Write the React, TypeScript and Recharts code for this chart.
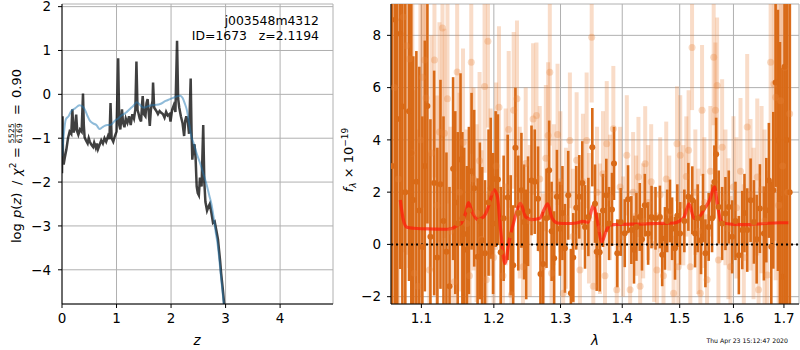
import React from 'react';
import {
  ComposedChart,
  Line,
  Scatter,
  ErrorBar,
  XAxis,
  YAxis,
  CartesianGrid,
  ReferenceLine,
} from 'recharts';

const FONT = '"DejaVu Sans", sans-serif';

// left panel: log p(z) (dark) and smooth curve (blue)
const pzZ = [
  0.0, 0.01, 0.018, 0.03, 0.05, 0.08, 0.11, 0.14, 0.17, 0.19, 0.21, 0.235, 0.26, 0.28, 0.3, 0.33, 0.36, 0.385,
  0.4, 0.415, 0.44, 0.47, 0.49, 0.51, 0.54, 0.57, 0.59, 0.62, 0.64, 0.66, 0.69, 0.72, 0.75, 0.78, 0.81, 0.845,
  0.87, 0.89, 0.91, 0.94, 0.97, 1.0, 1.03, 1.05, 1.07, 1.1, 1.12, 1.145, 1.17, 1.2, 1.23, 1.26, 1.29, 1.32,
  1.345, 1.365, 1.385, 1.4, 1.425, 1.45, 1.47, 1.48, 1.5, 1.53, 1.55, 1.57, 1.59, 1.61, 1.63, 1.66, 1.67, 1.69,
  1.71, 1.74, 1.76, 1.79, 1.82, 1.85, 1.88, 1.91, 1.94, 1.97, 1.99, 2.02, 2.05, 2.08, 2.11, 2.13, 2.15, 2.18,
  2.21, 2.24, 2.26, 2.28, 2.31, 2.33, 2.36, 2.375, 2.39, 2.41, 2.43, 2.45, 2.47, 2.49, 2.51, 2.53, 2.56, 2.59,
  2.61, 2.63, 2.66, 2.69, 2.71, 2.74, 2.77, 2.8, 2.83, 2.86, 2.88, 2.9, 2.92, 2.95, 2.975,
];
const pzLogP = [
  -1.8, -0.5, -1.45, -1.6, -1.45, -1.26, -1.0, -0.85, -0.9, -0.34, -0.87, -0.8, -0.46, -0.85, -0.92, -0.8, -0.85, 0.02,
  -0.7, -0.98, -1.05, -1.12, -1.0, -1.08, -1.15, -1.2, -1.1, -1.22, -1.12, -1.25, -1.15, -1.05, -1.12, -1.0, -1.08, -0.95,
  -1.02, -0.2, -1.0, -1.08, -0.95, -0.85, 0.82, -0.7, -0.8, -0.34, -0.65, -0.75, -0.55, -0.65, -0.5, -0.7, -0.45, -0.55,
  -0.35, 0.75, -0.35, -0.42, -0.55, -0.62, -0.2, -0.04, -0.45, -0.5, -0.2, -0.11, -0.4, -0.72, -0.35, -0.15, 0.27, -0.3,
  -0.34, -0.4, -0.45, -0.38, -0.42, -0.45, -0.53, -0.4, -0.48, -0.45, -0.62, -0.35, -0.25, -0.4, 1.22, -0.1, -0.3, -0.5,
  -0.65, -0.95, -0.6, -0.5, -0.65, -0.9, 0.36, -0.8, -1.49, -1.2, -1.14, -1.45, -2.1, -2.25, -2.3, -1.9, -2.1, -0.7,
  -2.0, -2.45, -2.65, -2.55, -2.5, -2.7, -2.93, -2.9, -3.1, -3.3, -3.55, -3.8, -4.1, -4.45, -4.8,
];
const smoothZ = [
  0.0, 0.03, 0.07, 0.12, 0.17, 0.24, 0.32, 0.38, 0.42, 0.47, 0.51, 0.57, 0.63, 0.69, 0.74, 0.78, 0.83, 0.88,
  0.92, 0.97, 1.03, 1.09, 1.17, 1.24, 1.31, 1.37, 1.43, 1.49, 1.56, 1.64, 1.72, 1.8, 1.9, 1.98, 2.06, 2.12,
  2.17, 2.21, 2.25, 2.29, 2.33, 2.37, 2.41, 2.47, 2.53, 2.59, 2.65, 2.7, 2.74, 2.78, 2.82, 2.86, 2.9, 2.94, 2.97,
];
const smoothLogP = [
  -1.41, -0.95, -0.57, -0.5, -0.38, -0.32, -0.25, -0.28, -0.35, -0.5, -0.6, -0.66, -0.7, -0.79, -0.75, -0.72, -0.7, -0.7,
  -0.67, -0.6, -0.55, -0.48, -0.42, -0.34, -0.26, -0.18, -0.24, -0.3, -0.28, -0.25, -0.24, -0.22, -0.15, -0.11, -0.07, -0.04,
  -0.03, -0.08, -0.2, -0.36, -0.65, -0.95, -1.1, -1.35, -1.56, -1.8, -2.05, -2.3, -2.5, -2.8, -3.15, -3.47, -3.95, -4.45, -4.8,
];

// right panel: extracted spectra, two grisms
const darkLam = [
  1.0622, 1.0661, 1.0686, 1.0725, 1.0752, 1.079, 1.0838, 1.0868, 1.0894, 1.0934, 1.0973, 1.1013, 1.1046, 1.108,
  1.112, 1.117, 1.1213, 1.1255, 1.1296, 1.1336, 1.1378, 1.1427, 1.1457, 1.149, 1.1529, 1.1555, 1.158, 1.1617,
  1.1646, 1.1683, 1.172, 1.1768, 1.18, 1.1834, 1.1874, 1.1924, 1.1955, 1.1989, 1.2026, 1.2059, 1.2099, 1.2142,
  1.2201, 1.2245, 1.2282, 1.2315, 1.2357, 1.2404, 1.2443, 1.2476, 1.2503, 1.2555, 1.2604, 1.2654, 1.2691, 1.2731,
  1.2783, 1.2824, 1.2862, 1.2901, 1.2944, 1.299, 1.303, 1.3069, 1.3121, 1.3163, 1.32, 1.3248, 1.3296, 1.3344,
  1.3388, 1.3442, 1.3506, 1.355, 1.3577, 1.3626, 1.368, 1.3735, 1.378, 1.3829, 1.3862, 1.3917, 1.3974, 1.4042,
  1.4098, 1.4154, 1.4199, 1.424, 1.4298, 1.4336, 1.4385, 1.4442, 1.4501, 1.4571, 1.4648, 1.4688, 1.4737, 1.4776,
  1.4826, 1.4864, 1.4916, 1.4957, 1.5006, 1.5084, 1.5157, 1.5229, 1.5279, 1.5327, 1.5389, 1.5425, 1.547, 1.5531,
  1.5594, 1.5638, 1.5671, 1.5719, 1.5784, 1.5847, 1.591, 1.5975, 1.6038, 1.6104, 1.617, 1.6213, 1.6267, 1.6333,
  1.6398, 1.6452, 1.6516, 1.6596, 1.6644, 1.6695, 1.6744, 1.6784, 1.6831, 1.6878, 1.6919, 1.6968, 1.7014, 1.7058, 1.7117,
];
const darkFlux = [
  3.0, 8.6, 4.8, 8.06, 5.28, 2.0, 5.1, 3.5, 1.7, 2.4, 1.3, -0.1, 3.0, 5.3,
  0.29, 2.35, -0.5, 2.3, 0.9, -0.28, -1.6, 2.9, 1.6, 0.8, 3.25, 1.0, 0.4, -0.2,
  1.3, 2.8, 2.15, -0.47, 0.9, 0.16, -0.34, 1.6, 2.15, 0.8, 2.5, 2.48, -0.3, 1.0,
  1.8, 0.35, -0.8, 3.7, 1.2, 2.07, 0.86, 0.0, 1.27, 2.45, 2.4, 1.75, -1.13, -0.75,
  1.0, 2.84, 0.5, -0.53, 1.82, 0.6, 1.2, -0.15, 1.88, -1.87, -0.5, 1.4, 1.82, 2.35,
  0.67, 1.05, 3.72, 1.56, -0.28, -0.3, 1.3, 1.88, 0.8, 1.34, 3.1, -0.34, 0.86, 0.43,
  1.73, 0.55, -0.2, 0.67, 1.05, 0.2, 1.5, 0.42, 1.05, 1.0, 1.05, -0.4, 0.23, 0.9,
  1.28, 0.6, -0.15, 1.1, 0.42, 0.9, 1.82, 1.69, 0.42, 1.0, 0.16, 1.4, -0.34, 0.67,
  1.0, 2.39, 3.45, 1.43, 0.8, 1.18, 1.43, 0.29, 0.9, -0.41, 0.55, 1.2, 0.55, 1.69,
  0.86, 0.2, 1.37, 0.42, 1.31, 2.45, -0.09, 2.07, 6.2, 3.98, 1.75, -1.24, 6.8, 4.0, 2.0,
];
const darkErr = [
  12, 11, 10, 9, 9, 8, 6.5, 6, 5.5, 5, 5.5, 5, 4.8, 4.5,
  4.5, 4.3, 4.2, 4, 4, 3.8, 3.8, 3.5, 3.5, 3.5, 3.3, 3.3, 3.3, 3.2,
  3.2, 3, 3, 3, 3, 2.8, 2.8, 2.8, 2.7, 2.7, 2.6, 2.5, 2.5, 2.4,
  2.4, 2.3, 2.3, 2.3, 2.2, 2.2, 2.2, 2.1, 2.1, 2.1, 2, 2, 2, 2,
  1.9, 1.9, 1.9, 1.8, 1.8, 1.8, 1.8, 1.7, 1.7, 1.7, 1.7, 1.6, 1.6, 1.6,
  1.6, 1.5, 1.5, 1.5, 1.5, 1.5, 1.4, 1.4, 1.4, 1.4, 1.4, 1.3, 1.3, 1.3,
  1.3, 1.3, 1.3, 1.3, 1.3, 1.2, 1.2, 1.2, 1.2, 1.2, 1.2, 1.2, 1.2, 1.2,
  1.2, 1.2, 1.2, 1.2, 1.2, 1.2, 1.3, 1.3, 1.3, 1.3, 1.3, 1.3, 1.3, 1.3,
  1.3, 1.4, 1.4, 1.4, 1.4, 1.4, 1.4, 1.4, 1.5, 1.5, 1.5, 1.5, 1.6, 1.6,
  1.6, 1.7, 1.7, 1.8, 2.0, 2.2, 2.5, 3, 4, 5, 6, 8, 10, 12, 12,
];

const lightLam = [
  1.0648, 1.0699, 1.0764, 1.0803, 1.0842, 1.0881, 1.0908, 1.0951, 1.0987, 1.1013, 1.104, 1.1062, 1.1107, 1.1133,
  1.1174, 1.1207, 1.1241, 1.1282, 1.1309, 1.135, 1.1391, 1.1446, 1.1483, 1.1515, 1.1564, 1.1613, 1.1655, 1.1679,
  1.1711, 1.1754, 1.1796, 1.1825, 1.1867, 1.1892, 1.1915, 1.1953, 1.1997, 1.2033, 1.2074, 1.2132, 1.2172, 1.2216,
  1.2255, 1.2289, 1.2338, 1.2379, 1.2428, 1.2468, 1.2529, 1.2579, 1.263, 1.268, 1.2731, 1.2773, 1.2808, 1.2834,
  1.2861, 1.2896, 1.2954, 1.2998, 1.3042, 1.3084, 1.3147, 1.3195, 1.3254, 1.3307, 1.3355, 1.3414, 1.3452, 1.3496,
  1.3522, 1.3582, 1.3631, 1.368, 1.3713, 1.3742, 1.3796, 1.3851, 1.3908, 1.3964, 1.4014, 1.4077, 1.4133, 1.4184,
  1.4235, 1.4275, 1.4304, 1.4356, 1.4391, 1.4443, 1.4495, 1.4547, 1.4595, 1.4653, 1.4711, 1.4759, 1.4813, 1.489,
  1.4951, 1.4974, 1.501, 1.5065, 1.5119, 1.5161, 1.5192, 1.5224, 1.5284, 1.5339, 1.5376, 1.5408, 1.5451, 1.5501,
  1.5563, 1.5625, 1.5657, 1.5689, 1.5714, 1.5784, 1.5847, 1.5904, 1.5942, 1.6, 1.6058, 1.6136, 1.62, 1.6266,
  1.6331, 1.6391, 1.6464, 1.649, 1.6549, 1.6609, 1.6663, 1.673, 1.6796, 1.6831, 1.6892, 1.6933, 1.6973, 1.7014,
  1.7076, 1.7117,
];
const lightFlux = [
  6.0, 2.5, 8.7, 7.6, 7.1, 3.5, -1.1, -1.6, 4.0, 6.4, 7.06, 5.6, -0.98, 3.5,
  7.06, 1.5, 4.3, 8.28, 4.25, 5.57, 0.5, -1.43, 6.6, 2.0, 3.9, 0.8, -1.2, 6.97,
  2.5, 1.2, 3.2, 0.2, 6.04, -1.35, 7.77, 2.0, -0.5, 3.0, 5.25, -1.2, 2.2, 4.4,
  -1.93, 5.13, 5.57, 1.6, -0.85, 3.1, 0.9, 4.8, 4.93, 2.5, -0.85, 3.3, 4.17, 6.59,
  -1.1, 1.9, 4.21, 2.4, -1.87, 1.0, 3.98, 0.3, 3.22, -0.98, 2.4, 3.98, 1.0, 7.93,
  -1.6, 2.0, 0.6, 2.7, -1.2, 3.85, 1.8, 4.43, -1.73, 2.2, 0.3, 3.41, -1.73, 2.0,
  1.1, 2.58, -1.6, 0.9, 3.09, 1.6, 2.4, 0.0, -0.98, 1.9, -1.2, 2.5, 1.2, -1.87,
  3.85, -0.85, 3.41, 1.5, 2.6, 3.6, -0.85, 7.54, 2.0, 0.5, -1.87, 5.13, 1.6, -1.35,
  2.8, 7.16, 5.13, 6.08, -0.6, 3.72, 1.8, 0.6, -0.85, 2.2, 1.4, 2.8, -0.5, 4.49,
  1.9, 0.8, 2.58, -1.73, 2.1, 0.9, -1.17, 6.97, 6.14, 5.63, 1.5, 5.5, 3.0, 6.78,
  2.0, 5.0,
];
const lightErr = [
  10, 10, 9, 8, 8, 7, 7, 6, 6, 5, 5, 5, 4.5, 4.5,
  4.5, 4.2, 4.2, 4.2, 4, 4, 4, 4, 3.8, 3.8, 3.6, 3.6, 3.5, 3.5,
  3.5, 3.4, 3.4, 3.4, 3.3, 3.3, 3.3, 3.2, 3.2, 3.2, 3.1, 3.1, 3, 3,
  3, 3, 3, 2.9, 2.9, 2.9, 2.9, 2.9, 2.8, 2.8, 2.8, 2.8, 2.8, 2.8,
  2.8, 2.7, 2.7, 2.7, 2.7, 2.7, 2.6, 2.6, 2.6, 2.6, 2.6, 2.6, 2.5, 2.5,
  2.5, 2.5, 2.5, 2.4, 2.4, 2.4, 2.4, 2.4, 2.4, 2.3, 2.3, 2.3, 2.3, 2.3,
  2.3, 2.3, 2.3, 2.2, 2.2, 2.2, 2.2, 2.2, 2.2, 2.2, 2.2, 2.2, 2.2, 2.2,
  2.2, 2.2, 2.3, 2.3, 2.3, 2.3, 2.3, 2.4, 2.4, 2.4, 2.4, 2.5, 2.5, 2.5,
  2.5, 2.6, 2.6, 2.6, 2.6, 2.6, 2.6, 2.7, 2.7, 2.7, 2.7, 2.8, 2.8, 2.8,
  2.9, 2.9, 3, 3, 3.2, 3.5, 4, 5, 6, 7, 8, 9, 10, 11,
  12, 12,
];

// best-fit template
const modelLam = [
  1.0725, 1.076, 1.081, 1.09, 1.1, 1.115, 1.13, 1.14, 1.148, 1.155, 1.16, 1.164, 1.169, 1.177, 1.185, 1.191,
  1.196, 1.2, 1.205, 1.21, 1.216, 1.222, 1.23, 1.239, 1.247, 1.256, 1.268, 1.275, 1.28, 1.287, 1.295, 1.31,
  1.325, 1.335, 1.344, 1.352, 1.358, 1.366, 1.373, 1.38, 1.4, 1.43, 1.46, 1.49, 1.5, 1.508, 1.517, 1.526,
  1.535, 1.545, 1.555, 1.564, 1.569, 1.576, 1.585, 1.6, 1.63, 1.66, 1.69, 1.709,
];
const modelFlux = [
  1.7, 1.0, 0.66, 0.62, 0.6, 0.59, 0.58, 0.6, 0.72, 0.85, 1.2, 1.6, 1.25, 0.95, 1.05, 1.35,
  1.8, 2.1, 1.85, 0.5, -0.73, 0.1, 0.95, 1.57, 1.05, 0.95, 1.0, 1.35, 1.55, 1.0, 0.82, 0.8,
  0.82, 0.88, 0.85, 1.5, 1.0, 0.1, 0.5, 0.75, 0.77, 0.78, 0.8, 0.82, 0.9, 1.05, 1.55, 1.0,
  1.05, 1.35, 1.7, 2.2, 1.6, 0.9, 0.8, 0.77, 0.76, 0.8, 0.83, 0.83,
];

const zTicks = [0, 1, 2, 3, 4];
const logpTicks = [-4, -3, -2, -1, 0, 1, 2];
const lamTicks = [1.1, 1.2, 1.3, 1.4, 1.5, 1.6, 1.7];
const fluxTicks = [-2, 0, 2, 4, 6, 8];

const FLUX_MIN = -2.28;
const FLUX_MAX = 9.2;

// error bars are cut at the frame, like matplotlib clipping does
const withClippedErr = (lam: number[], flux: number[], err: number[]) =>
  lam.map((x, i) => ({
    x,
    y: flux[i],
    e: [Math.min(err[i], flux[i] - FLUX_MIN), Math.min(err[i], FLUX_MAX - flux[i])],
  }));

const pz = pzZ.map((x, i) => ({ x, y: pzLogP[i] }));
const smooth = smoothZ.map((x, i) => ({ x, y: smoothLogP[i] }));
const dark = withClippedErr(darkLam, darkFlux, darkErr);
const light = withClippedErr(lightLam, lightFlux, lightErr);
const model = modelLam.map((x, i) => ({ x, y: modelFlux[i] }));

const DARK = '#d96a17';
const LIGHT = '#e8833a';
const GRID = '#b0b0b0';
const tick = { fontSize: 13.5, fill: '#000', fontFamily: FONT };
const minus = (v: number) => (v < 0 ? `\u2212${Math.abs(v)}` : `${v}`);

export default function App() {
  return (
    <div style={{ position: 'absolute', left: 0, top: 0, width: 800, height: 350, background: '#fff' }}>
      {/* p(z) panel */}
      <div style={{ position: 'absolute', left: 0, top: 0 }}>
        <ComposedChart width={340} height={350} margin={{ top: 4, right: 7, bottom: 0, left: 0 }}>
          <CartesianGrid stroke={GRID} strokeWidth={1} />
          <XAxis type="number" dataKey="x" domain={[0, 4.97]} ticks={zTicks} interval={0} allowDataOverflow
            height={46} tickSize={4} tickMargin={5} tick={tick} stroke="#000" tickFormatter={minus} />
          <YAxis type="number" dataKey="y" domain={[-4.78, 2.06]} ticks={logpTicks} interval={0} allowDataOverflow
            width={62} tickSize={4} tickMargin={7} tick={tick} stroke="#000" tickFormatter={minus} />
          <XAxis xAxisId="t" orientation="top" type="number" domain={[0, 1]} height={0} tick={false} tickLine={false} stroke="#000" />
          <YAxis yAxisId="r" orientation="right" type="number" domain={[0, 1]} width={0} tick={false} tickLine={false} stroke="#000" />
          <Line data={pz} dataKey="y" type="linear" stroke="#000" strokeOpacity={0.75} strokeWidth={2.5}
            dot={false} isAnimationActive={false} />
          <Line data={smooth} dataKey="y" type="monotone" stroke="#1f77b4" strokeOpacity={0.5} strokeWidth={2}
            dot={false} isAnimationActive={false} />
        </ComposedChart>
      </div>

      {/* spectrum panel */}
      <div style={{ position: 'absolute', left: 340, top: 0 }}>
        <ComposedChart width={460} height={350} margin={{ top: 4, right: 1, bottom: 0, left: 0 }}>
          <CartesianGrid stroke={GRID} strokeWidth={1} />
          <XAxis type="number" scale="log" dataKey="x" domain={[1.0606, 1.731]} ticks={lamTicks} interval={0}
            allowDataOverflow height={46} tickSize={4} tickMargin={5} tick={tick} stroke="#000"
            tickFormatter={(v: number) => v.toFixed(1)} />
          <YAxis type="number" dataKey="y" domain={[FLUX_MIN, FLUX_MAX]} ticks={fluxTicks} interval={0} allowDataOverflow
            width={51} tickSize={4} tickMargin={6} tick={tick} stroke="#000" tickFormatter={minus} />
          <XAxis xAxisId="t" orientation="top" type="number" domain={[0, 1]} height={0} tick={false} tickLine={false} stroke="#000" />
          <YAxis yAxisId="r" orientation="right" type="number" domain={[0, 1]} width={0} tick={false} tickLine={false} stroke="#000" />
          <Scatter data={light} isAnimationActive={false}
            shape={(p: any) => <circle cx={p.cx} cy={p.cy} r={3.5} fill={LIGHT} fillOpacity={0.3} />}>
            <ErrorBar dataKey="e" direction="y" width={0} stroke={LIGHT} strokeOpacity={0.28} strokeWidth={4}
              isAnimationActive={false} />
          </Scatter>
          <Scatter data={dark} isAnimationActive={false}
            shape={(p: any) => <circle cx={p.cx} cy={p.cy} r={3} fill={DARK} />}>
            <ErrorBar dataKey="e" direction="y" width={0} stroke={DARK} strokeWidth={2.6} isAnimationActive={false} />
          </Scatter>
          <Line data={model} dataKey="y" type="monotone" stroke="#ff1a0a" strokeOpacity={0.72} strokeWidth={3.2}
            dot={false} isAnimationActive={false} />
          <ReferenceLine y={0} stroke="#000" strokeWidth={2} strokeDasharray="2 3" />
        </ComposedChart>
      </div>

      {/* labels */}
      <svg width={800} height={350} style={{ position: 'absolute', left: 0, top: 0, pointerEvents: 'none' }}
        fontFamily={FONT}>
        <g transform="translate(20.5,155) rotate(-90)" fontSize={13}>
          <text x={-88} y={0}>log</text>
          <text x={-63} y={0}><tspan fontStyle="italic">p</tspan>(<tspan fontStyle="italic">z</tspan>)</text>
          <text x={-30} y={0}>/</text>
          <text x={-21} y={0}><tspan fontStyle="italic">χ</tspan><tspan dy={-5} fontSize={9}>2</tspan></text>
          <text x={-3} y={0}>=</text>
          <text x={22} y={-6.2} fontSize={7.5} letterSpacing={0.3} textAnchor="middle">5525</text>
          <line x1={12} x2={32} y1={-5.2} y2={-5.2} stroke="#000" strokeWidth={0.6} />
          <text x={22} y={1} fontSize={7.5} letterSpacing={0.3} textAnchor="middle">6169</text>
          <text x={40} y={0}>=</text>
          <text x={86} y={0} textAnchor="end">0.90</text>
        </g>
        <text x={319} y={25} fontSize={12.4} textAnchor="end">j003548m4312</text>
        <text x={319} y={40} fontSize={12.4} textAnchor="end" style={{ whiteSpace: 'pre' }}>ID=1673   z=2.1194</text>
        <text x={197} y={345} fontSize={13.5} fontStyle="italic" textAnchor="middle">z</text>

        <g transform="translate(353,160) rotate(-90)">
          <text x={0} y={0} fontSize={13} textAnchor="middle">
            <tspan fontStyle="italic">f</tspan>
            <tspan dy={3} fontSize={9} fontStyle="italic">λ</tspan>
            <tspan dy={-3}> × 10</tspan>
            <tspan dy={-5} fontSize={9}>−19</tspan>
          </text>
        </g>
        <text x={595} y={345} fontSize={13.5} fontStyle="italic" textAnchor="middle">λ</text>
        <text x={788} y={343} fontSize={6.2} textAnchor="end">Thu Apr 23 15:12:47 2020</text>
      </svg>
    </div>
  );
}
